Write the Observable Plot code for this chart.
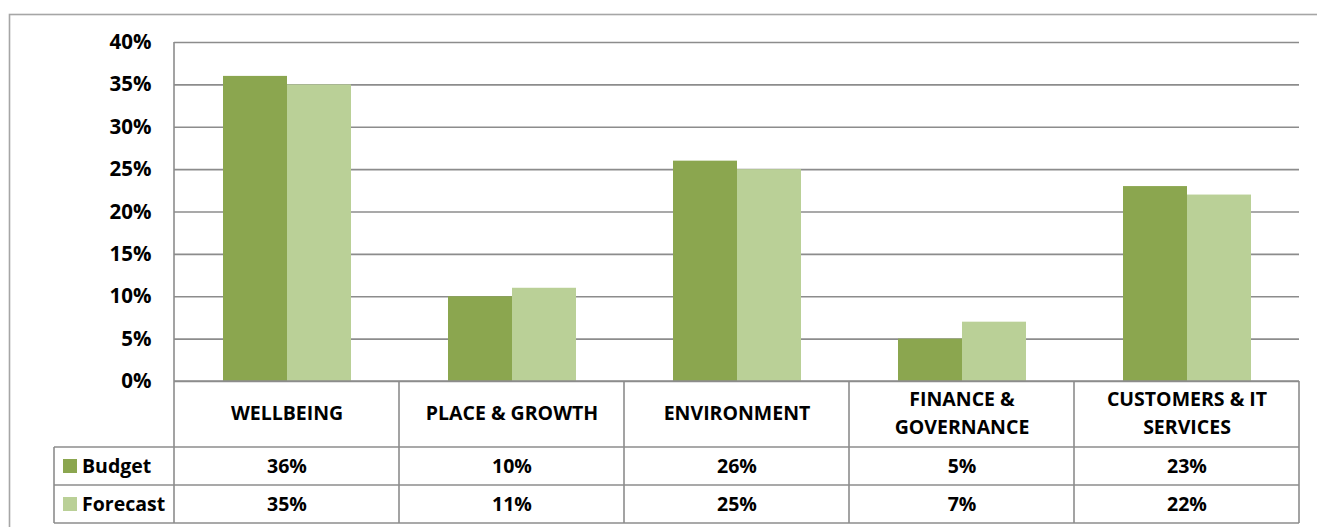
<!DOCTYPE html>
<html>
<head>
<meta charset="utf-8">
<script src="https://cdn.jsdelivr.net/npm/d3@7"></script>
<script src="https://cdn.jsdelivr.net/npm/@observablehq/plot@0.6"></script>
<style>
  html, body { margin: 0; padding: 0; background: #fff; }
  svg { display: block; }
</style>
</head>
<body>
<div id="chart"></div>
<script>
const categories = ["WELLBEING", "PLACE & GROWTH", "ENVIRONMENT", "FINANCE &\nGOVERNANCE", "CUSTOMERS & IT\nSERVICES"];
const series = ["Budget", "Forecast"];
const budget = [0.36, 0.10, 0.26, 0.05, 0.23];
const forecast = [0.35, 0.11, 0.25, 0.07, 0.22];
const yTicks = [0, 0.05, 0.10, 0.15, 0.20, 0.25, 0.30, 0.35, 0.40];
const colors = ["#8ba64f", "#bad097"];

const data = categories.flatMap((c, i) => [
  {category: c, series: "Budget", value: budget[i]},
  {category: c, series: "Forecast", value: forecast[i]}
]);
const pct = d3.format(".0%");
const FONT = "'Open Sans', Lato, sans-serif";
const GRID = "#8c8c8c";
const FS = 19.5;

const plot = Plot.plot({
  width: 1317,
  height: 527,
  marginLeft: 173,
  marginRight: 18,
  marginTop: 42,
  marginBottom: 146,
  style: {fontFamily: FONT, fontWeight: "bold", color: "#000", background: "#fff"},
  fx: {domain: categories, padding: 0, axis: null, label: null},
  x: {domain: series, paddingInner: 0, paddingOuter: 0.74, axis: null, label: null},
  y: {domain: [0, 0.4], label: null},
  color: {domain: series, range: colors},
  marks: [
    Plot.gridY(yTicks, {stroke: GRID, strokeOpacity: 1, strokeWidth: 1.6}),
    Plot.barY(data, {fx: "category", x: "series", y: "value", fill: "series"}),
    Plot.axisY(yTicks, {tickFormat: pct, tickSize: 0, tickPadding: 23, fontSize: 20.5, fontWeight: "bold", fill: "#000", label: null}),
    Plot.text(categories, {fx: d => d, text: d => d, frameAnchor: "bottom", lineAnchor: "middle", dy: 29.5, fontSize: FS, fontWeight: "bold", fill: "#000", lineHeight: 1.45}),
    Plot.text(data.filter(d => d.series === "Budget"), {fx: "category", text: d => pct(d.value), frameAnchor: "bottom", lineAnchor: "middle", dy: 85, fontSize: FS, fontWeight: "bold", fill: "#000"}),
    Plot.text(data.filter(d => d.series === "Forecast"), {fx: "category", text: d => pct(d.value), frameAnchor: "bottom", lineAnchor: "middle", dy: 123, fontSize: FS, fontWeight: "bold", fill: "#000"})
  ]
});

document.getElementById("chart").appendChild(plot);

// Table grid and legend drawn from Plot's own scales
const svg = d3.select(plot);
const fx = plot.scale("fx");
const y = plot.scale("y");
const bw = fx.bandwidth;
const edges = categories.map(c => fx.apply(c));
edges.push(edges[edges.length - 1] + bw);
const left = edges[0], right = edges[edges.length - 1];
const y0 = y.apply(0), yTop = y.apply(0.4);
const rowLines = [y0 + 66, y0 + 104, y0 + 142];
const legendLeft = 54;

const g = svg.append("g").attr("stroke", GRID).attr("stroke-width", 1.6).attr("fill", "none");
// outer border
g.append("rect").attr("x", 9.5).attr("y", 14.5).attr("width", 1330).attr("height", 530).attr("stroke", "#a6a6a6");
// plot left axis line
g.append("line").attr("x1", left).attr("x2", left).attr("y1", yTop).attr("y2", rowLines[2]);
// baseline
g.append("line").attr("x1", left).attr("x2", right).attr("y1", y0).attr("y2", y0);
// column separators
edges.slice(1).forEach(x => g.append("line").attr("x1", x).attr("x2", x).attr("y1", y0).attr("y2", rowLines[2]));
// row lines
rowLines.forEach(r => g.append("line").attr("x1", legendLeft).attr("x2", right).attr("y1", r).attr("y2", r));
g.append("line").attr("x1", legendLeft).attr("x2", legendLeft).attr("y1", rowLines[0]).attr("y2", rowLines[2]);

// legend keys in the table
series.forEach((s, i) => {
  const cy = (rowLines[i] + rowLines[i + 1]) / 2;
  svg.append("rect").attr("x", 63).attr("y", cy - 7).attr("width", 14).attr("height", 14).attr("fill", plot.scale("color").apply(s));
  svg.append("text").attr("x", 82).attr("y", cy).attr("dy", "0.35em").attr("font-size", FS).attr("font-weight", "bold")
    .attr("text-anchor", "start").attr("font-family", FONT).attr("fill", "#000").text(s);
});
</script>
</body>
</html>
